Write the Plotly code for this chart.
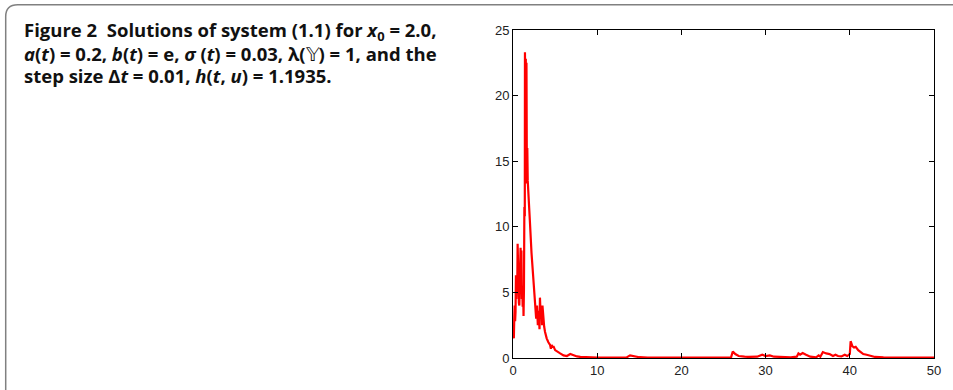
import plotly.graph_objects as go

# ---- data ----
t_values = [0.00, 0.05, 0.10, 0.15, 0.20, 0.25, 0.30, 0.35, 0.40, 0.45, 0.50, 0.55, 0.60, 0.65,
            0.70, 0.75, 0.80, 0.85, 0.90, 0.95, 1.00, 1.05, 1.10, 1.15, 1.20, 1.25, 1.30, 1.35,
            1.40, 1.42, 1.48, 1.52, 1.56, 1.60, 1.65, 1.70, 1.75, 1.85, 2.0, 2.2, 2.4, 2.6, 2.75,
            2.85, 2.95, 3.05, 3.15, 3.2, 3.3, 3.4, 3.45, 3.5, 3.6, 3.7, 3.8, 3.9, 4.0, 4.2, 4.4,
            4.5, 4.6, 4.7, 4.8, 5.0, 5.3, 5.6, 6.0, 6.4, 6.8, 7.2, 7.6, 8.0, 9.0, 10.0, 12.0,
            13.5, 13.9, 14.3, 15.0, 16.0, 18.0, 20.0, 22.0, 24.0, 25.9, 26.1, 26.4, 26.8, 27.5,
            28.0, 29.0, 29.6, 30.0, 30.5, 31.0, 32.0, 33.0, 33.7, 33.9, 34.1, 34.4, 34.8, 35.3,
            36.0, 36.3, 36.5, 36.8, 37.2, 37.6, 38.0, 38.3, 38.6, 39.0, 39.4, 39.7, 40.0, 40.1,
            40.3, 40.5, 40.7, 41.0, 41.3, 41.6, 42.0, 42.3, 42.6, 43.0, 44.0, 46.0, 48.0, 50.0]
x_values = [2.0, 1.6, 1.5, 3.0, 4.0, 2.8, 3.5, 6.3, 4.5, 6.2, 5.0, 8.7, 5.5, 7.8,
            4.2, 4.0, 6.5, 5.0, 8.4, 6.0, 8.2, 4.5, 5.5, 3.9, 5.3, 3.2, 5.2, 11.5,
            10.8, 23.3, 17.0, 22.8, 13.3, 22.5, 13.4, 16.0, 13.5, 12.5, 10.5, 8.0, 6.0, 4.5, 3.0,
            4.0, 2.5, 3.6, 2.2, 4.6, 3.0, 3.8, 2.5, 4.0, 2.8, 2.4, 2.0, 1.7, 1.5, 1.2, 1.0,
            0.7, 1.0, 0.8, 0.9, 0.6, 0.45, 0.35, 0.2, 0.15, 0.3, 0.2, 0.12, 0.08, 0.05, 0.04, 0.03,
            0.05, 0.2, 0.15, 0.06, 0.04, 0.03, 0.03, 0.05, 0.03, 0.05, 0.5, 0.3, 0.15, 0.1,
            0.08, 0.1, 0.25, 0.15, 0.2, 0.1, 0.06, 0.05, 0.1, 0.35, 0.25, 0.38, 0.25, 0.1,
            0.05, 0.2, 0.1, 0.45, 0.35, 0.3, 0.15, 0.25, 0.15, 0.12, 0.25, 0.15, 0.3, 1.28,
            0.9, 0.8, 0.85, 0.6, 0.45, 0.3, 0.25, 0.2, 0.15, 0.08, 0.05, 0.04, 0.03, 0.03]
x_ticks = [0, 10, 20, 30, 40, 50]
y_ticks = [0, 5, 10, 15, 20, 25]

caption_lines = [
    "<b>Figure 2  Solutions of system (1.1) for <i>x</i><sub>0</sub> = 2.0,</b>",
    "<b><i>a</i>(<i>t</i>) = 0.2, <i>b</i>(<i>t</i>) = e, <i>σ</i> (<i>t</i>) = 0.03, λ(</b>𝕐<b>) = 1, and the</b>",
    "<b>step size Δ<i>t</i> = 0.01, <i>h</i>(<i>t</i>, <i>u</i>) = 1.1935.</b>",
]

W, H = 953, 390
L, R, T, B = 513, 18, 30, 28
PW, PH = W - L - R, H - T - B


def px(xp):
    return (xp - L) / PW


def py(yp):
    return (H - B - yp) / PH


fig = go.Figure()
fig.add_trace(go.Scatter(x=t_values, y=x_values, mode="lines",
                         line=dict(color="#ff0000", width=2.2), showlegend=False))

axis_common = dict(showline=True, linecolor="black", linewidth=1, mirror="ticks",
                   ticks="inside", ticklen=5, tickcolor="black", showgrid=False,
                   zeroline=False, tickfont=dict(family="Liberation Sans, Arial", size=13, color="#222"))
fig.update_xaxes(range=[0, 50], tickvals=x_ticks, **axis_common)
fig.update_yaxes(range=[0, 25], tickvals=y_ticks, **axis_common)

for i, line in enumerate(caption_lines):
    fig.add_annotation(text=line, xref="paper", yref="paper", x=px(21), y=py(31 + i * 22.3),
                       xanchor="left", yanchor="middle", showarrow=False, align="left",
                       font=dict(family="Open Sans, Noto Sans", size=18.5, color="#111"))

# rounded border frame
r = 12
path = (f"M {px(4.5)},{py(H + 5)} L {px(4.5)},{py(4.5 + r)} "
        f"Q {px(4.5)},{py(4.5)} {px(4.5 + r)},{py(4.5)} L {px(W + 5)},{py(4.5)}")
fig.add_shape(type="path", path=path, xref="paper", yref="paper",
              line=dict(color="#808080", width=1.5))

fig.update_layout(width=W, height=H, margin=dict(l=L, r=R, t=T, b=B),
                  paper_bgcolor="white", plot_bgcolor="white")
fig.write_html("out.html", config={"displayModeBar": False},
               post_script="document.body.style.margin='0';document.body.style.overflow='hidden';")
